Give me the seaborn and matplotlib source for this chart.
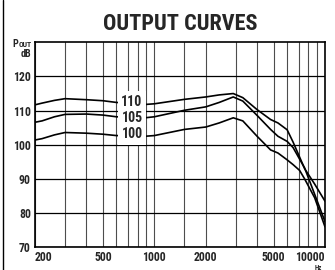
import matplotlib
matplotlib.use("Agg")
import matplotlib.pyplot as plt
import pandas as pd
import seaborn as sns
from matplotlib import font_manager
from matplotlib.lines import Line2D
from matplotlib.ticker import NullFormatter

# values
freq_hz = [200, 220, 260, 300, 400, 500, 600, 880, 1000, 1500, 2000, 2400,
           2900, 3300, 4000, 4800, 5300, 6000, 6500, 7100, 7600, 8700, 10000]
out_110 = [111.7, 112.2, 113.0, 113.5, 113.2, 112.9, 112.4, 111.8, 112.0,
           113.3, 114.0, 114.6, 115.0, 113.8, 110.3, 107.4, 106.4, 104.4,
           100.8, 96.4, 93.0, 88.5, 83.5]
out_105 = [106.6, 107.0, 108.2, 108.9, 109.0, 108.7, 108.2, 107.9, 108.2,
           110.1, 111.1, 112.4, 114.0, 112.8, 108.6, 104.5, 102.5, 101.0,
           99.2, 95.8, 93.2, 85.5, 77.5]
out_100 = [101.4, 101.8, 102.9, 103.6, 103.4, 103.1, 102.7, 102.5, 102.7,
           104.5, 105.2, 106.4, 107.9, 107.0, 102.5, 98.5, 97.6, 95.6,
           94.2, 92.5, 90.0, 84.5, 76.0]
curve_labels = ["110", "105", "100"]

x_major = [200, 500, 1000, 2000, 5000, 10000]
x_minor = [300, 400, 600, 700, 800, 900, 1500, 3000, 4000, 6000, 7000,
           8000, 9000]
y_ticks = [70, 80, 90, 100, 110, 120]

rows = []
for name, vals in zip(curve_labels, [out_110, out_105, out_100]):
    for f, v in zip(freq_hz, vals):
        rows.append({"curve": name, "Hz": f, "dB": v})
df = pd.DataFrame(rows)

sns.set_style("white")
installed = {f.name for f in font_manager.fontManager.ttflist}
family = [f for f in ["Liberation Sans Narrow", "DejaVu Sans Condensed",
                      "Roboto Condensed", "Liberation Sans", "DejaVu Sans"]
          if f in installed]
plt.rcParams["font.family"] = family
plt.rcParams["font.weight"] = "bold"

fig = plt.figure(figsize=(3.35, 2.7), dpi=100)
ax = fig.add_axes([35 / 335, 22.7 / 270, 290 / 335, 205 / 270])

for name in curve_labels:
    sns.lineplot(data=df[df["curve"] == name], x="Hz", y="dB", color="black",
                 linewidth=1.2, ax=ax, zorder=3)

ax.set_xscale("log")
ax.set_xlim(200, 10000)
ax.set_ylim(70, 130)
ax.set_xticks(x_major)
ax.set_xticklabels([str(v) for v in x_major])
ax.set_xticks(x_minor, minor=True)
ax.xaxis.set_minor_formatter(NullFormatter())
ax.set_yticks(y_ticks)
ax.set_yticklabels([str(v) for v in y_ticks])
ax.tick_params(which="both", length=0, labelsize=8.5, pad=3)
ax.tick_params(axis="x", pad=2.5)
xl = ax.get_xticklabels()
xl[0].set_ha("left")
xl[-1].set_ha("right")

ax.grid(True, axis="y", color="black", linewidth=0.9)
ax.grid(True, axis="x", which="both", color="0.3", linewidth=0.8)
ax.set_axisbelow(True)
for s in ax.spines.values():
    s.set_color("black")
    s.set_linewidth(1.2)
ax.set_xlabel("")
ax.set_ylabel("")

# curve labels sit in a white gap cut through the lines
ax.text(740, 107.8, "\n".join(curve_labels), ha="center", va="center",
        fontsize=10, fontweight="bold", linespacing=1.2, zorder=4,
        bbox=dict(facecolor="white", edgecolor="none",
                  boxstyle="square,pad=0.25"))

fig.text(180 / 335, 1 - 30 / 270, "OUTPUT CURVES", ha="center",
         va="baseline", fontsize=16, fontweight="bold")

# "POUT" with small caps, "dB" below
fig.canvas.draw()
t_out = fig.text(31.7 / 335, 1 - 46.7 / 270, "OUT", ha="right",
                 va="baseline", fontsize=5.6, fontweight="bold")
w = t_out.get_window_extent(fig.canvas.get_renderer()).width
fig.text((31.7 - w - 0.3) / 335, 1 - 46.7 / 270, "P", ha="right",
         va="baseline", fontsize=7.2, fontweight="bold")
fig.text(31.7 / 335, 1 - 56.7 / 270, "dB", ha="right", va="baseline",
         fontsize=7.2, fontweight="bold")
fig.text(318 / 335, 1 - 263.5 / 270, "Hz", ha="center", va="top",
         fontsize=5, fontweight="bold")

fig.add_artist(Line2D([3 / 335, 3 / 335], [0, 1], color="black",
                      linewidth=1.0, transform=fig.transFigure))

fig.savefig("out.png", dpi=100, facecolor="white")
